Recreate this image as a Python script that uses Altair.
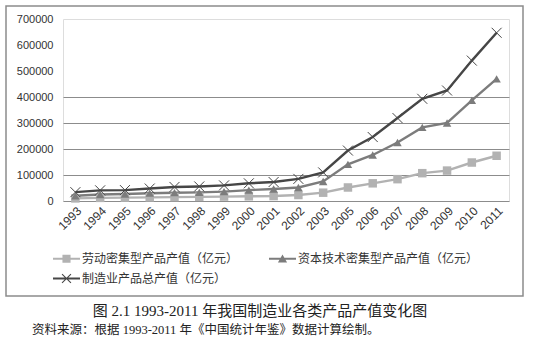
import altair as alt
import pandas as pd

years = ["1993", "1994", "1995", "1996", "1997", "1998", "1999", "2000", "2001",
         "2002", "2003", "2005", "2006", "2007", "2008", "2009", "2010", "2011"]
labor = [10000, 12000, 13000, 14000, 15000, 16000, 17000, 18000, 19000,
         23000, 32000, 52000, 68000, 84000, 107000, 117000, 148000, 174000]
capital = [20000, 25000, 27000, 30000, 32000, 33000, 36000, 42000, 46000,
           52000, 75000, 141000, 177000, 225000, 283000, 300000, 387000, 470000]
total = [34000, 41000, 42000, 48000, 54000, 56000, 60000, 68000, 73000,
         85000, 110000, 194000, 246000, 319000, 393000, 425000, 540000, 647000]
y_ticks = [0, 100000, 200000, 300000, 400000, 500000, 600000, 700000]

series_names = ["劳动密集型产品产值（亿元）", "资本技术密集型产品产值（亿元）", "制造业产品总产值（亿元）"]
series_colors = ["#b2b2b2", "#7c7c7c", "#464646"]
caption = "图 2.1 1993-2011 年我国制造业各类产品产值变化图"
source = "资料来源：根据 1993-2011 年《中国统计年鉴》数据计算绘制。"

rows = []
for name, vals in zip(series_names, [labor, capital, total]):
    for yr, v in zip(years, vals):
        rows.append({"year": yr, "series": name, "value": v})
df = pd.DataFrame(rows)

# legend symbols: line segment + marker as one filled path
leg_square = "M-1,-0.074H1V0.074H-1Z M-0.3,-0.3H0.3V0.3H-0.3Z"
leg_tri = "M-1,-0.074H1V0.074H-1Z M0,-0.32L0.34,0.27L-0.34,0.27Z"
leg_x = ("M-1,-0.074H1V0.074H-1Z "
         "M-0.302,-0.358L0.358,0.302L0.302,0.358L-0.358,-0.302Z "
         "M-0.302,0.358L-0.358,0.302L0.302,-0.358L0.358,-0.302Z")

# legend is laid out column by column: labor, total | capital
legend_order = [series_names[0], series_names[2], series_names[1]]
legend_colors = [series_colors[0], series_colors[2], series_colors[1]]
legend_shapes = [leg_square, leg_x, leg_tri]

x_enc = alt.X("year:O", sort=years, scale=alt.Scale(domain=years),
              axis=alt.Axis(title=None, labelAngle=-45, ticks=False, domain=False,
                            labelFont="Liberation Sans", labelFontSize=12,
                            labelColor="#333333", labelPadding=4))
y_enc = alt.Y("value:Q", scale=alt.Scale(domain=[0, 700000], nice=False),
              axis=alt.Axis(title=None, values=y_ticks, format="d", ticks=False, domain=False,
                            grid=True, gridColor="#8c8c8c", gridWidth=1,
                            gridOpacity={"condition": {"test": "datum.value > 400000", "value": 0}, "value": 1},
                            labelFont="Liberation Sans", labelFontSize=11,
                            labelColor="#333333", labelPadding=10))
color_plain = alt.Color("series:N", scale=alt.Scale(domain=series_names, range=series_colors), legend=None)

base = alt.Chart(df)

lines = base.mark_line(strokeWidth=2.4).encode(x=x_enc, y=y_enc, color=color_plain)

filled_pts = base.transform_filter(
    alt.FieldOneOfPredicate(field="series", oneOf=series_names[:2])
).mark_point(filled=True, opacity=1, size=72).encode(
    x=x_enc, y=y_enc, color=color_plain,
    shape=alt.Shape("series:N", scale=alt.Scale(domain=series_names[:2], range=["square", "triangle-up"]), legend=None),
)

x_pts = base.transform_filter(
    alt.FieldEqualPredicate(field="series", equal=series_names[2])
).mark_point(filled=False, opacity=1, size=100, strokeWidth=1,
             shape="M-1,-1L1,1M-1,1L1,-1").encode(x=x_enc, y=y_enc, color=color_plain)

legend = alt.Legend(title=None, orient="none", legendX=-10, legendY=226, columns=2,
                    columnPadding=30, rowPadding=-9, symbolSize=729, symbolStrokeWidth=0,
                    symbolOpacity=1, labelOffset=2, labelFont="Noto Sans CJK SC",
                    labelFontSize=12, labelColor="#333333", labelLimit=0, padding=0)
legend_layer = base.mark_point(filled=True, opacity=0).encode(
    x=x_enc, y=y_enc,
    color=alt.Color("series:N", scale=alt.Scale(domain=legend_order, range=legend_colors), legend=legend),
    shape=alt.Shape("series:N", scale=alt.Scale(domain=legend_order, range=legend_shapes), legend=legend),
)

frame = alt.Chart(pd.DataFrame({"a": [0]})).mark_rect(
    fill="transparent", stroke="#8c8c8c", strokeWidth=1.5
).encode(x=alt.value(-57), x2=alt.value(460), y=alt.value(-13), y2=alt.value(277))

cap = alt.Chart(pd.DataFrame({"t": [caption]})).mark_text(
    font="Liberation Serif, Noto Sans CJK SC", fontSize=15, color="#222222",
    align="center", baseline="middle"
).encode(text="t:N", x=alt.value(197), y=alt.value(292))

src = alt.Chart(pd.DataFrame({"t": [source]})).mark_text(
    font="Liberation Serif, Noto Sans CJK SC", fontSize=12.5, color="#222222",
    align="left", baseline="middle"
).encode(text="t:N", x=alt.value(-31), y=alt.value(311))

chart = alt.layer(frame, lines, filled_pts, x_pts, legend_layer, cap, src).resolve_scale(
    color="independent", shape="independent"
).properties(
    width=446, height=182,
    autosize=alt.AutoSizeParams(type="none"),
    padding={"left": 63, "top": 19, "right": 24, "bottom": 153},
).configure_view(stroke=None).configure(background="white")

chart.save("out.html", embed_options={"renderer": "svg", "actions": False})
